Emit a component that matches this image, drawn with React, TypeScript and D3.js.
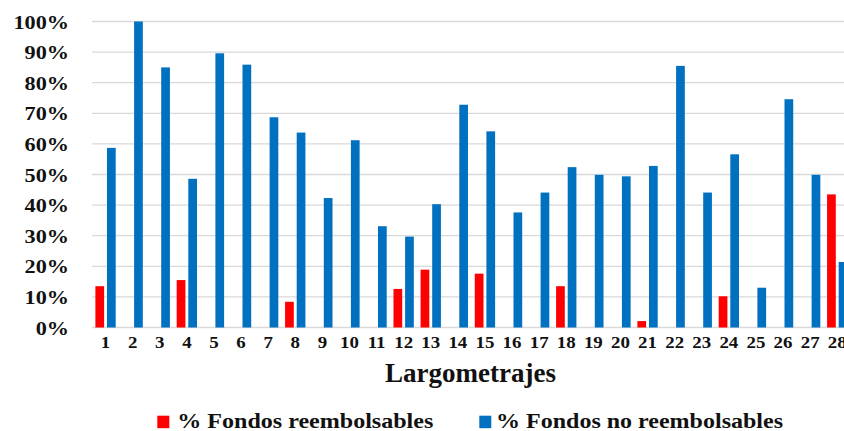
import React from "react";
import * as d3 from "d3";

const categories = Array.from({ length: 28 }, (_, i) => String(i + 1));
const reembolsables = [13.5, 0, 0, 15.5, 0, 0, 0, 8.4, 0, 0, 0, 12.6, 18.9, 0, 17.6, 0, 0, 13.5, 0, 0, 2.1, 0, 0, 10.2, 0, 0, 0, 43.5];
const noReembolsables = [58.7, 100, 85.0, 48.6, 89.6, 85.9, 68.7, 63.7, 42.3, 61.2, 33.1, 29.7, 40.3, 72.8, 64.1, 37.6, 44.1, 52.4, 49.9, 49.4, 52.8, 85.5, 44.1, 56.6, 13.0, 74.6, 49.9, 21.4];
const yTicks = [0, 10, 20, 30, 40, 50, 60, 70, 80, 90, 100];
const seriesNames = ["% Fondos reembolsables", "% Fondos no reembolsables"];
const seriesKeys = ["r", "b"];
const colors = ["#FF0000", "#0070C0"];

const W = 844;
const H = 431;
const left = 92;
const step = 27.1;
const top = 21.5;
const bottom = 327.5;
const FONT = "'Liberation Serif', 'Times New Roman', serif";

export default function App() {
  const x0 = d3
    .scaleBand<string>()
    .domain(categories)
    .range([left, left + step * categories.length])
    .paddingInner(0.25)
    .paddingOuter(0.125);
  const x1 = d3.scaleBand<string>().domain(seriesKeys).range([0, x0.bandwidth()]).paddingInner(0.25);
  const y = d3.scaleLinear().domain([0, 100]).range([bottom, top]);
  const values = [reembolsables, noReembolsables];
  const fmt = (v: number) => `${v}%`;

  return (
    <svg width={W} height={H} style={{ position: "absolute", left: 0, top: 0, background: "#fff" }} fontFamily={FONT}>
      <rect x={0} y={0} width={W} height={H} fill="#fff" />
      {yTicks.map((t) => (
        <line key={t} x1={left} x2={W + 20} y1={y(t)} y2={y(t)} stroke="#d9d9d9" strokeWidth={1.3} />
      ))}
      {yTicks.map((t) => (
        <text
          key={"l" + t}
          transform={`translate(69, ${y(t) + 7}) scale(1.14, 1)`}
          textAnchor="end"
          fontSize={19.5}
          fontWeight="bold"
          fill="#111"
        >
          {fmt(t)}
        </text>
      ))}
      {categories.map((c, i) => (
        <g key={c}>
          {values.map((vals, s) =>
            vals[i] > 0 ? (
              <rect
                key={s}
                x={(x0(c) as number) + (x1(seriesKeys[s]) as number)}
                y={y(vals[i])}
                width={x1.bandwidth()}
                height={y(0) - y(vals[i])}
                fill={colors[s]}
              />
            ) : null
          )}
          <text
            transform={`translate(${(x0(c) as number) + x0.bandwidth() / 2}, 347.5) scale(1.08, 1)`}
            textAnchor="middle"
            fontSize={17.5}
            fontWeight="bold"
            fill="#111"
          >
            {c}
          </text>
        </g>
      ))}
      <text x={470.5} y={382.3} textAnchor="middle" fontSize={27} fontWeight="bold" fill="#111">
        Largometrajes
      </text>
      {seriesNames.map((name, s) => {
        const sx = s === 0 ? 157.3 : 479.3;
        const tx = s === 0 ? 177.3 : 496;
        const tl = s === 0 ? 256 : 287;
        return (
          <g key={name}>
            <rect x={sx} y={415.7} width={12} height={12.5} fill={colors[s]} />
            <text x={tx} y={428} fontSize={22} fontWeight="bold" fill="#111" textLength={tl} lengthAdjust="spacingAndGlyphs">
              {name}
            </text>
          </g>
        );
      })}
    </svg>
  );
}
